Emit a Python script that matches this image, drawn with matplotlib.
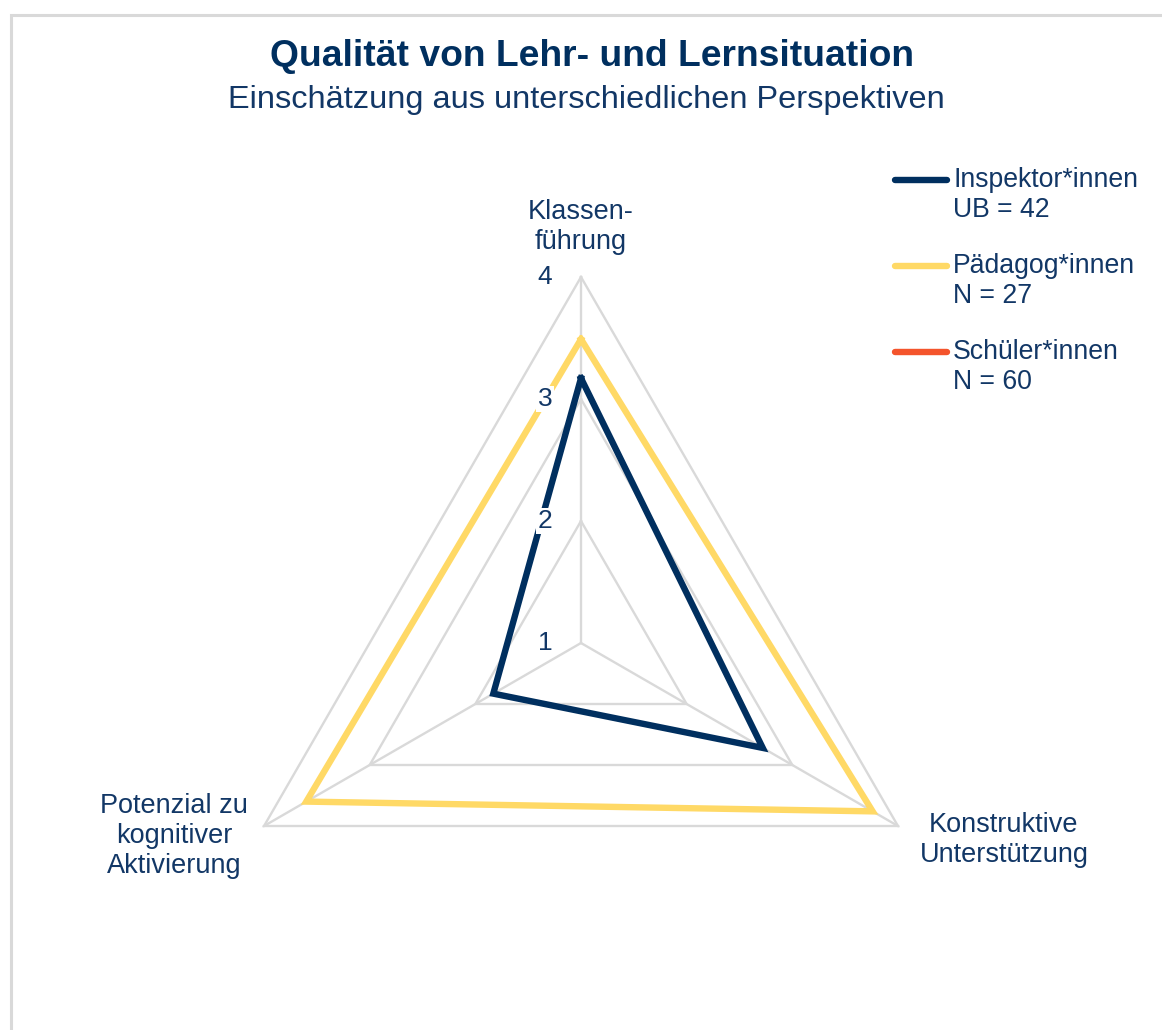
import numpy as np
import matplotlib.pyplot as plt
from matplotlib.lines import Line2D
from matplotlib.patches import Rectangle

plt.rcParams['font.family'] = ['Liberation Sans', 'DejaVu Sans']

categories = ['Klassen-\nführung', 'Konstruktive\nUnterstützung', 'Potenzial zu\nkognitiver\nAktivierung']
series_names = ['Inspektor*innen\nUB = 42', 'Pädagog*innen\nN = 27', 'Schüler*innen\nN = 60']
inspektor = [3.17, 2.72, 1.83]
paedagog = [3.49, 3.76, 3.60]
schueler = [np.nan, np.nan, np.nan]
rings = [1, 2, 3, 4]

navy = '#002f5f'
text_c = '#123766'
colors = ['#002f5f', '#ffd966', '#f4542c']
grid_c = '#d9d9d9'

W, H = 1162, 1030
fig = plt.figure(figsize=(W / 100, H / 100), dpi=100)


def fx(x):
    return x / W


def fy(y):
    return 1 - y / H


# light frame (only top/left visible in the reference)
fig.add_artist(Rectangle((fx(11), -0.1), 2, 1.1 - 15 / H, transform=fig.transFigure,
                         fill=False, edgecolor=grid_c, lw=2.2))

cx, cy, R = 581, 643, 366
ax = fig.add_axes([fx(cx - R), fy(cy + R), 2 * R / W, 2 * R / H], projection='polar')
ax.set_theta_offset(np.pi / 2)
ax.set_theta_direction(-1)
ax.set_ylim(rings[0], rings[-1])
ax.grid(False)
ax.spines['polar'].set_visible(False)
ax.set_xticks([])
ax.set_yticks([])
ax.patch.set_alpha(0)

n = len(categories)
theta = np.arange(n) * 2 * np.pi / n
theta_c = np.append(theta, theta[0])

for r in rings[1:]:
    ax.plot(theta_c, [r] * (n + 1), color=grid_c, lw=1.7, clip_on=False, zorder=1,
            solid_joinstyle='miter')
for t in theta:
    ax.plot([t, t], [rings[0], rings[-1]], color=grid_c, lw=1.7, clip_on=False, zorder=1)

for vals, c in zip([inspektor, paedagog, schueler], colors):
    v = np.append(vals, vals[0])
    ax.plot(theta_c, v, color=c, lw=4.6, clip_on=False, zorder=3, solid_joinstyle='miter')

# radial labels
for r in rings:
    ax.annotate(str(r), xy=(0, r), xytext=(-36, 0), textcoords='offset pixels',
                ha='center', va='center', fontsize=19, color=text_c, zorder=6,
                bbox=dict(boxstyle='square,pad=0.05', fc='white', ec='none'), annotation_clip=False)

# category labels
offsets = [(0, 50), (106, -14), (-90, -10)]
for t, lab, off in zip(theta, categories, offsets):
    ax.annotate(lab, xy=(t, rings[-1]), xytext=off, textcoords='offset pixels',
                ha='center', va='center', multialignment='center', fontsize=19.5,
                color=text_c, linespacing=1.22, annotation_clip=False)

# title
fig.text(fx(592), fy(57), 'Qualität von Lehr- und Lernsituation', ha='center', va='center',
         fontsize=26.8, fontweight='bold', color=navy)
fig.text(fx(586), fy(100), 'Einschätzung aus unterschiedlichen Perspektiven', ha='center', va='center',
         fontsize=23.4, color=text_c)

# legend
for i, (name, c) in enumerate(zip(series_names, colors)):
    y0 = 180 + i * 86
    fig.add_artist(Line2D([fx(895), fx(947)], [fy(y0), fy(y0)], transform=fig.transFigure,
                          color=c, lw=4.6, solid_capstyle='round'))
    first, second = name.split('\n')
    fig.text(fx(953), fy(y0), first, ha='left', va='center', fontsize=19.2, color=text_c)
    fig.text(fx(953), fy(y0 + 30), second, ha='left', va='center', fontsize=19.2, color=text_c)

fig.savefig('out.png', dpi=100, facecolor='white')
